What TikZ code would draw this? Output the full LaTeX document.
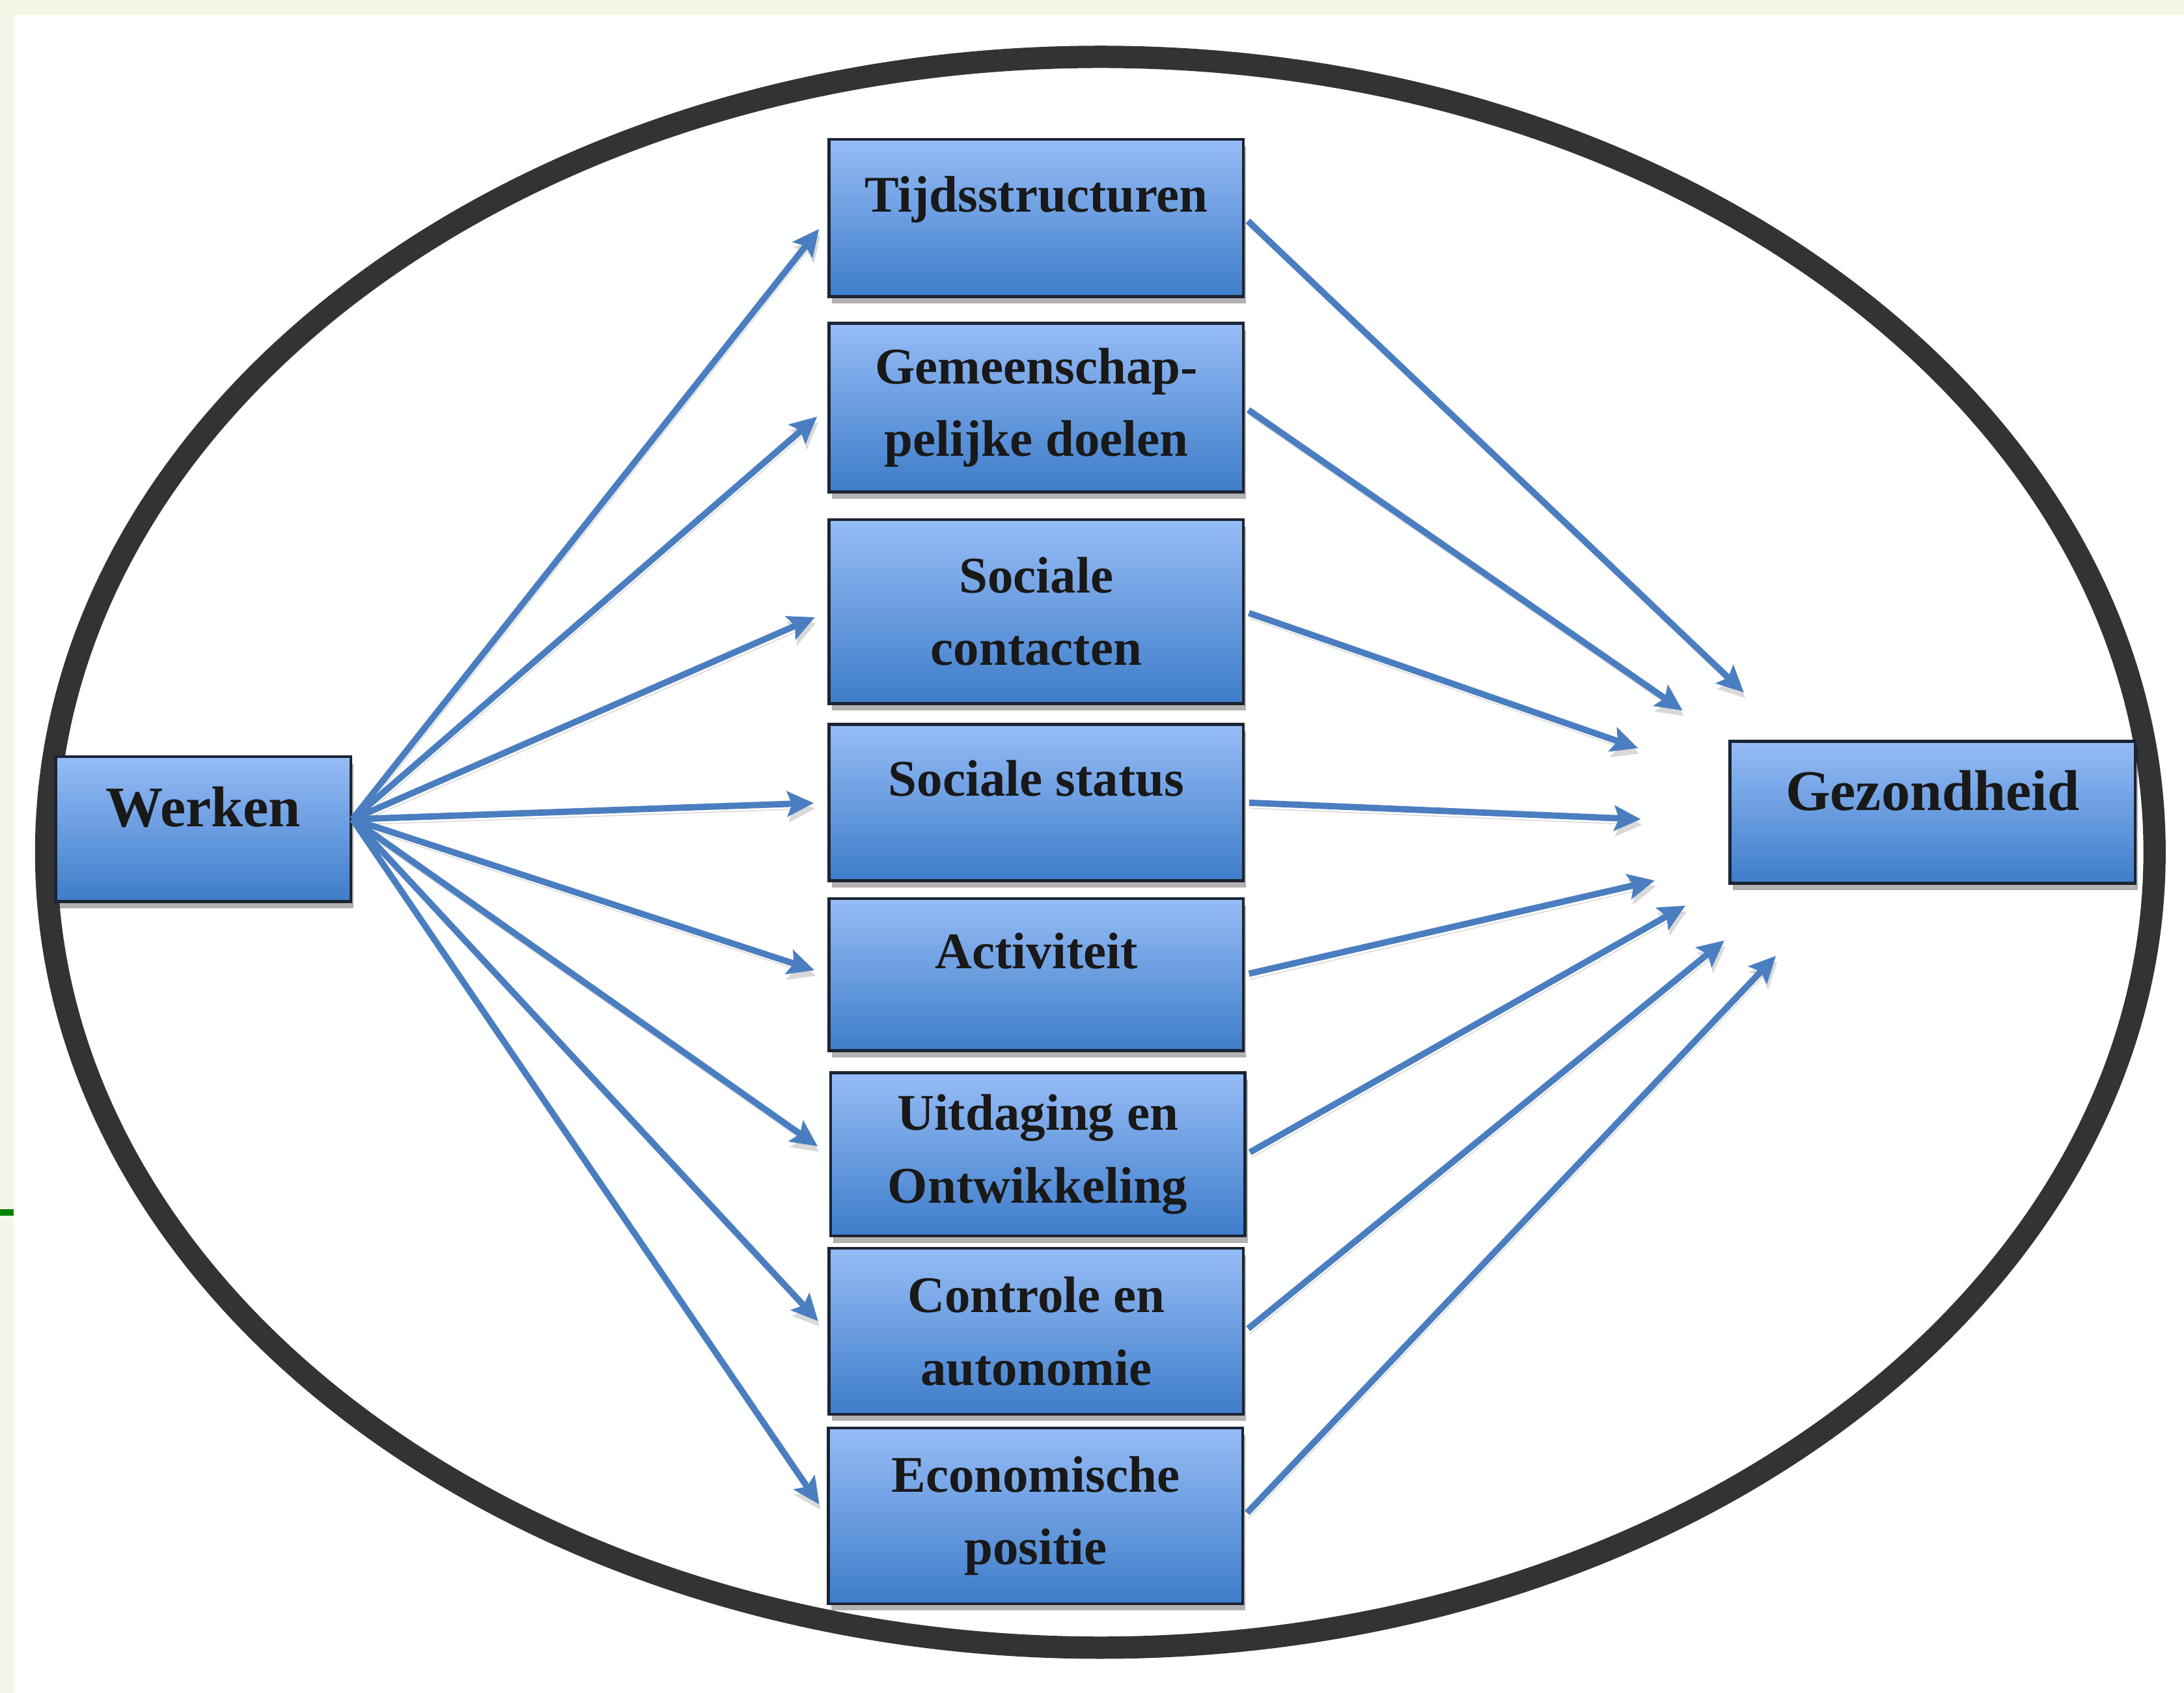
\documentclass[tikz,border=0pt]{standalone}
\usepackage{fontspec}
\setmainfont{Liberation Serif}
\usetikzlibrary{arrows.meta, shadows}

\definecolor{pagebg}{RGB}{245,246,232}
\definecolor{ringgray}{RGB}{51,51,51}
\definecolor{boxtop}{RGB}{150,188,246}
\definecolor{boxbot}{RGB}{62,125,202}
\definecolor{boxline}{RGB}{27,36,51}
\definecolor{linkblue}{RGB}{74,126,192}
\definecolor{tickgreen}{RGB}{0,130,0}

\tikzset{
	factor/.style={draw=boxline, line width=1.2pt, top color=boxtop, bottom color=boxbot,
		minimum width=5.95cm, align=center, text=black!90,
		font=\bfseries\fontsize{21}{29.6}\selectfont,
		drop shadow={shadow xshift=0.04cm, shadow yshift=-0.1cm, opacity=0.3, fill=black}},
	endbox/.style={factor, font=\bfseries\fontsize{23.5}{28}\selectfont, text height=0.6cm, text depth=0.66cm},
	oneline/.style={text height=0.5cm, text depth=0.68cm},
	link/.style={draw=linkblue, line width=2.6pt, -{Stealth[length=0.38cm, width=0.36cm, inset=0.07cm]},
		preaction={draw=black!15, transform canvas={xshift=0.02cm, yshift=-0.08cm}}}
}

\begin{document}
\begin{tikzpicture}[x=0.02cm, y=-0.02cm]
	\useasboundingbox (0,0) rectangle (1568,1215);
	
	% page background
	\fill[pagebg] (0,0) rectangle (1568,1215);
	\fill[white] (10,10.7) rectangle (1568,1215);
	\fill[tickgreen] (0,868) rectangle (10,872.5);
	
	% outer ring
	\draw[ringgray, line width=0.32cm] (790,611.7) ellipse [x radius=15.14cm, y radius=11.42cm];
	
	% cause and outcome
	\node[endbox, minimum width=4.24cm, minimum height=2.08cm] (werken) at (146,595) {Werken};
	\node[endbox, minimum width=5.82cm, minimum height=2.04cm] (gezond) at (1387.5,583) {Gezondheid};
	
	% mediating factors
	\node[factor, oneline, minimum height=2.26cm] (tijd) at (744,156.5) {Tijdsstructuren};
	\node[factor, minimum height=2.42cm] (doelen) at (744,292.5) {Gemeenschap-\\pelijke doelen};
	\node[factor, minimum height=2.64cm] (contact) at (744,439) {Sociale\\contacten};
	\node[factor, oneline, minimum height=2.24cm] (status) at (744,576) {Sociale status};
	\node[factor, oneline, minimum height=2.18cm] (activ) at (744,699.5) {Activiteit};
	\node[factor, minimum height=2.34cm] (uitdaging) at (745,828.5) {Uitdaging en\\Ontwikkeling};
	\node[factor, minimum height=2.38cm] (controle) at (744,955.5) {Controle en\\autonomie};
	\node[factor, minimum height=2.52cm] (econ) at (743.5,1088) {Economische\\positie};
	
	% loose ends of the arrows towards Gezondheid
	\coordinate (g1) at (1252,497);
	\coordinate (g2) at (1208,510);
	\coordinate (g3) at (1176,537);
	\coordinate (g4) at (1178,588);
	\coordinate (g5) at (1188,632);
	\coordinate (g6) at (1210,650);
	\coordinate (g7) at (1238,675);
	\coordinate (g8) at (1275,686);
	
	% arrows
	\foreach \f/\g in {tijd/g1, doelen/g2, contact/g3, status/g4, activ/g5, uitdaging/g6, controle/g7, econ/g8}{
		\draw[link, shorten >=0.2cm] ([yshift=0.14cm]werken.east) -- (\f.west);
		\draw[link, shorten <=0.06cm] (\f.east) -- (\g);
	}
\end{tikzpicture}
\end{document}
